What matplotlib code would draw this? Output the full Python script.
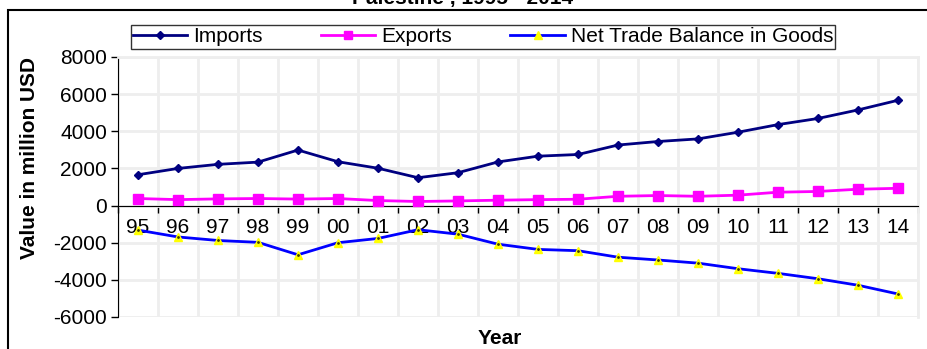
import numpy as np
import matplotlib.pyplot as plt
from matplotlib.patches import Rectangle

plt.rcParams['font.family'] = ['Liberation Sans', 'DejaVu Sans']
plt.rcParams['axes.unicode_minus'] = False

# trade figures, million USD
years = ['95', '96', '97', '98', '99', '00', '01', '02', '03', '04',
         '05', '06', '07', '08', '09', '10', '11', '12', '13', '14']
imports = [1660, 2000, 2220, 2340, 2990, 2360, 2010, 1500, 1770, 2350,
           2660, 2750, 3260, 3450, 3590, 3950, 4360, 4690, 5150, 5670]
exports = [380, 320, 360, 380, 350, 380, 270, 220, 250, 290,
           320, 340, 500, 540, 500, 560, 720, 760, 880, 930]
net_balance = [-1320, -1690, -1880, -1980, -2650, -2000, -1770, -1300, -1540, -2080,
               -2360, -2430, -2780, -2930, -3100, -3400, -3650, -3940, -4290, -4760]

W, H = 928, 349
fig = plt.figure(figsize=(W / 100, H / 100), dpi=100)
ax = fig.add_axes([118 / W, (H - 317) / H, 800 / W, 260 / H])

x = np.arange(len(years))

ax.plot(x, imports, color='#000080', lw=2, marker='D', ms=4.5,
        label='Imports', zorder=3)
ax.plot(x, exports, color='#ff00ff', lw=2, marker='s', ms=7,
        label='Exports', zorder=3)
ax.plot(x, net_balance, color='#0000ff', lw=2, marker='^', ms=6,
        mfc='#ffff00', mec='#ffff00', label='Net Trade Balance in Goods', zorder=3)
# tiny dark dot inside each triangle
ax.plot(x, net_balance, ls='none', marker='.', ms=2, color='#404000', zorder=4)

ax.set_xlim(-0.5, len(years) - 0.5)
ax.set_ylim(-6000, 8000)
ax.set_yticks(range(-6000, 8001, 2000))

# category boundaries carry the tick marks, labels sit at the centres
ax.set_xticks(np.arange(-0.5, len(years), 1.0))
ax.set_xticklabels([])
ax.set_xticks(x, minor=True)
ax.set_xticklabels(years, minor=True)
ax.tick_params(axis='x', which='major', direction='out', length=5, width=1)
ax.tick_params(axis='x', which='minor', length=0, pad=9, labelsize=15)
ax.tick_params(axis='y', direction='out', length=5, width=1, labelsize=15, pad=3)

ax.grid(True, which='major', color='#eeeeee', lw=2)
ax.set_axisbelow(True)

ax.spines['bottom'].set_position(('data', 0))
ax.spines['bottom'].set_color('black')
ax.spines['left'].set_color('black')
for s in ['top', 'right']:
    ax.spines[s].set_color('#eeeeee')
    ax.spines[s].set_linewidth(2)
for lbl in ax.get_xticklabels(minor=True):
    lbl.set_zorder(5)

fig.text(30 / W, 1 - 158 / H, 'Value in million USD', rotation=90,
         ha='center', va='center', fontsize=15, fontweight='bold')
fig.text(500 / W, 1 - 338 / H, 'Year', ha='center', va='center',
         fontsize=15, fontweight='bold')
fig.text(463 / W, 1 - 4 / H, 'Palestine , 1995 - 2014', ha='center',
         va='baseline', fontsize=15, fontweight='bold')

leg = fig.legend(loc='center', bbox_to_anchor=(483 / W, 1 - 37 / H), ncol=3,
                 fontsize=15, frameon=True, fancybox=False, handlelength=2.6,
                 handletextpad=0.3, columnspacing=2.8, borderpad=0.1,
                 borderaxespad=0, markerscale=0.9)
leg.get_frame().set_edgecolor('black')
leg.get_frame().set_linewidth(1)

# outer chart frame
fig.patches.append(Rectangle((8 / W, -0.1), 1.2, 1 - 10 / H + 0.1,
                             transform=fig.transFigure, fill=False,
                             edgecolor='black', lw=1.5))

fig.savefig('out.png', dpi=100)
